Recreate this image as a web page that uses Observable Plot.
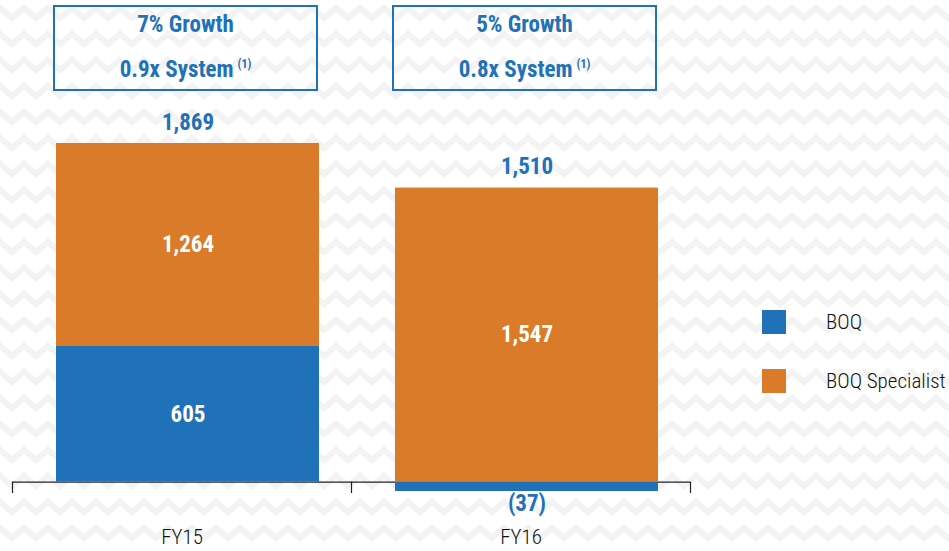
<!DOCTYPE html>
<html>
<head>
<meta charset="utf-8">
<script src="https://cdn.jsdelivr.net/npm/d3@7"></script>
<script src="https://cdn.jsdelivr.net/npm/@observablehq/plot@0.6"></script>
<style>
  html, body { margin: 0; padding: 0; }
  body {
    width: 949px; height: 551px; overflow: hidden;
    background-color: #ffffff;
    background-image: url("data:image/svg+xml,%3Csvg xmlns='http://www.w3.org/2000/svg' width='48' height='26'%3E%3Cpath d='M-12 18 L0 8 L12 18 L24 8 L36 18 L48 8 L60 18' stroke='%23f3f3f3' stroke-width='6' fill='none'/%3E%3C/svg%3E");
    font-family: "Liberation Sans Narrow", "Roboto Condensed", "DejaVu Sans Condensed", "Liberation Sans", sans-serif;
  }
  #wrap { position: relative; width: 949px; height: 551px; }
  #chart { position: absolute; left: 0; top: 0; }
  .box {
    position: absolute; box-sizing: border-box;
    border: 2.5px solid #1f72b8; color: #1f72b8;
    font-weight: bold; font-size: 23px; text-align: center;
  }
  .box .l1 { position: absolute; left: 0; right: 0; top: 4px; }
  .box .l2 { position: absolute; left: 0; right: 0; top: 49px; }
  .box sup { font-size: 12px; vertical-align: 9px; margin-left: 4px; }
  #legend { position: absolute; left: 762px; top: 310px; }
  .item { display: flex; align-items: center; height: 24px; margin-bottom: 35px; font-size: 21px; color: #111; }
  .sw { width: 24px; height: 24px; margin-right: 40px; }
</style>
</head>
<body>
<div id="wrap"><div id="chart"></div></div>
<script>
// ---- data ----
const categories = ["FY15", "FY16"];
const seriesNames = ["BOQ", "BOQ Specialist"];
const boqValues = [605, -37];
const specialistValues = [1264, 1547];
const totals = [1869, 1510];
const growthLabels = ["7% Growth", "5% Growth"];
const systemLabels = ["0.9x System", "0.8x System"];
const footnote = "(1)";
const seriesColors = ["#1f72b8", "#d97b28"];

// ---- build table ----
const C = 2000;
const f = v => Math.sign(v) * Math.log1p(Math.abs(v) / C);
const finv = t => Math.sign(t) * C * Math.expm1(Math.abs(t));
const fmt = v => v < 0 ? "(" + d3.format(",")(-v) + ")" : d3.format(",")(v);

const segs = [];
const tops = [];
categories.forEach((cat, i) => {
  const b = boqValues[i], s = specialistValues[i];
  const b1 = Math.min(0, b), b2 = Math.max(0, b);
  segs.push({cat, series: seriesNames[0], y1: b1, y2: b2, value: b});
  const s1 = b2, s2 = b2 + s;
  segs.push({cat, series: seriesNames[1], y1: s1, y2: s2, value: s});
  tops.push({cat, y: s2, total: totals[i]});
});
segs.forEach(d => { d.mid = finv((f(d.y1) + f(d.y2)) / 2); });
const inside = segs.filter(d => d.value >= 0);
const below = segs.filter(d => d.value < 0);

const W = 949, H = 551, mL = 12, mR = 259, mT = 143, mB = 60;
const bw = (W - mL - mR) / categories.length;
const insetL = 44, insetR = 32;
const fontStack = "'Liberation Sans Narrow', 'Roboto Condensed', 'DejaVu Sans Condensed', sans-serif";

const plot = Plot.plot({
  width: W, height: H,
  marginLeft: mL, marginRight: mR, marginTop: mT, marginBottom: mB,
  style: {background: "transparent", fontFamily: fontStack},
  x: {domain: categories, padding: 0},
  y: {type: "symlog", constant: C, domain: [-37, 1869], axis: null},
  color: {domain: seriesNames, range: seriesColors},
  marks: [
    Plot.ruleY([0], {stroke: "#222", strokeWidth: 1.2}),
    Plot.ruleX(categories, {x: d => d, y1: 0, y2: -45, dx: -bw / 2, stroke: "#222", strokeWidth: 1.2}),
    Plot.ruleX([categories[categories.length - 1]], {x: d => d, y1: 0, y2: -45, dx: bw / 2, stroke: "#222", strokeWidth: 1.2}),
    Plot.rectY(segs, {x: "cat", y1: "y1", y2: "y2", fill: "series", insetLeft: insetL, insetRight: insetR}),
    Plot.text(inside, {x: "cat", y: "mid", text: d => fmt(d.value), fill: "white", fontSize: 23, fontWeight: "bold", dx: (insetL - insetR) / 2}),
    Plot.text(below, {x: "cat", y: "y1", text: d => fmt(d.value), fill: seriesColors[0], fontSize: 23, fontWeight: "bold", lineAnchor: "top", dy: 3, dx: (insetL - insetR) / 2}),
    Plot.text(tops, {x: "cat", y: "y", text: d => fmt(d.total), fill: seriesColors[0], fontSize: 23, fontWeight: "bold", lineAnchor: "bottom", dy: -14, dx: (insetL - insetR) / 2}),
    Plot.axisX({tickSize: 0, tickPadding: 38, fontSize: 21, label: null, color: "#111", fontWeight: 300})
  ]
});
document.getElementById("chart").appendChild(plot);

// growth boxes aligned to bars via the x scale
const xs = plot.scale("x");
const wrap = document.getElementById("wrap");
categories.forEach((cat, i) => {
  const left = xs.apply(cat) + insetL - 3;
  const box = document.createElement("div");
  box.className = "box";
  box.style.left = left + "px";
  box.style.top = "5px";
  box.style.width = (xs.bandwidth - insetL - insetR + 2) + "px";
  box.style.height = "86px";
  box.innerHTML = `<div class="l1">${growthLabels[i]}</div><div class="l2">${systemLabels[i]}<sup>${footnote}</sup></div>`;
  wrap.appendChild(box);
});

// legend
const legend = document.createElement("div");
legend.id = "legend";
seriesNames.forEach((name, i) => {
  const it = document.createElement("div");
  it.className = "item";
  it.innerHTML = `<div class="sw" style="background:${seriesColors[i]}"></div><span style="font-weight:300">${name}</span>`;
  legend.appendChild(it);
});
wrap.appendChild(legend);
</script>
</body>
</html>
